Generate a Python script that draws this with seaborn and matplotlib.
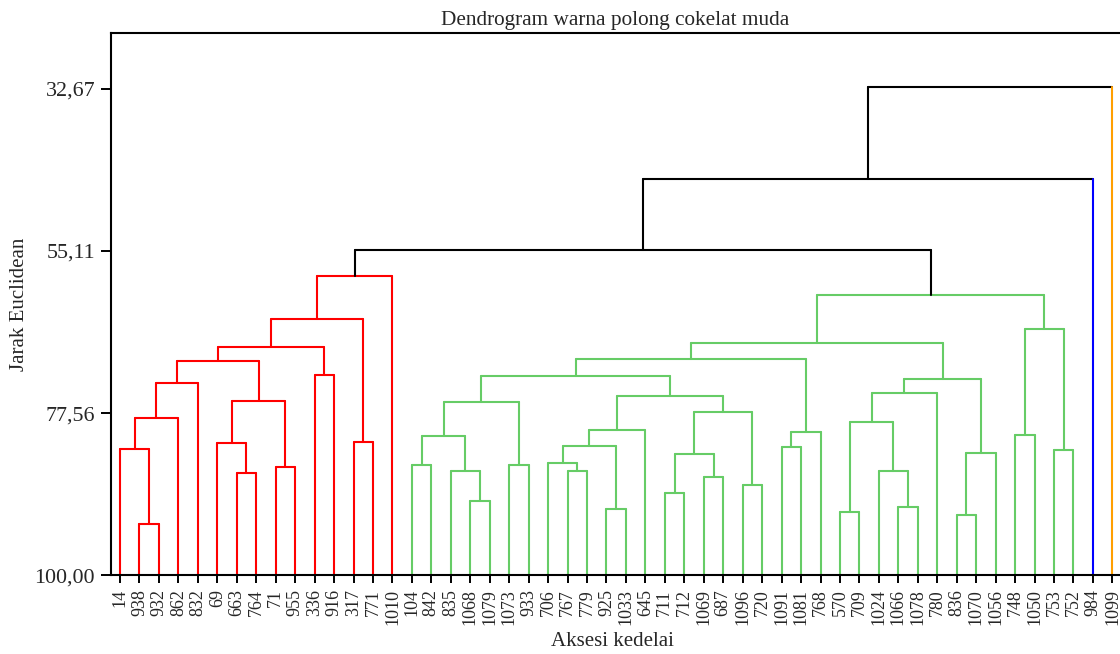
import numpy as np
import pandas as pd
import matplotlib
matplotlib.use("Agg")
import matplotlib.pyplot as plt
import seaborn as sns

# ---------------- data ----------------
leaf_labels = ["14", "938", "932", "862", "832", "69", "663", "764", "71", "955",
               "336", "916", "317", "771", "1010", "104", "842", "835", "1068", "1079",
               "1073", "933", "706", "767", "779", "925", "1033", "645", "711", "712",
               "1069", "687", "1096", "720", "1091", "1081", "768", "570", "709", "1024",
               "1066", "1078", "780", "836", "1070", "1056", "748", "1050", "753", "752",
               "984", "1099"]
# singleton leaves with their own colour
leaf_own_color = {"984": "#0000FF", "1099": "#FF9F00"}

# merges: node index = len(leaves) + k
merge_left = [1, 0, 53, 54, 6, 5, 8, 57, 55, 10, 60, 12, 62, 64,
              15, 18, 17, 66, 20, 69, 23, 22, 25, 73, 75, 28, 30, 77, 32, 79, 76, 71,
              34, 84, 83, 37, 40, 39, 87, 90, 43, 92, 91, 86, 46, 48, 96, 95,
              65, 100, 101]
merge_right = [2, 52, 3, 4, 7, 56, 9, 58, 59, 11, 61, 13, 63, 14,
               16, 19, 67, 68, 21, 70, 24, 72, 26, 74, 27, 29, 31, 78, 33, 80, 81, 82,
               35, 36, 85, 38, 41, 88, 89, 42, 44, 45, 93, 94, 47, 49, 97, 98,
               99, 50, 51]
merge_height = [92.90, 82.57, 78.23, 73.35, 85.80, 81.74, 85.06, 75.84, 70.31, 72.28,
                68.45, 81.51, 64.58, 58.54,
                84.74, 89.68, 85.57, 80.68, 84.74, 75.98, 85.57, 84.50, 90.78, 82.07,
                79.85, 88.61, 86.36, 83.17, 87.51, 77.36, 75.19, 72.46, 82.29, 80.13,
                70.03, 91.28, 90.51, 85.57, 78.79, 74.73, 91.61, 83.12, 72.80, 67.82,
                80.63, 82.62, 65.96, 61.26,
                54.95, 45.21, 32.43]
merge_color = ["#FF0000"] * 14 + ["#66CC66"] * 34 + ["#000000"] * 3

y_ticks = [32.67, 55.11, 77.56, 100.00]
y_tick_labels = ["32,67", "55,11", "77,56", "100,00"]
base_value = 100.0

# ---------------- build link segments ----------------
n = len(leaf_labels)
node_x = list(range(n))
node_h = [base_value] * n
for l, r, h in zip(merge_left, merge_right, merge_height):
    node_x.append((node_x[l] + node_x[r]) / 2.0)
    node_h.append(h)

rows = []
seg = 0
for k, (l, r, h, c) in enumerate(zip(merge_left, merge_right, merge_height, merge_color)):
    for child in (l, r):
        col = c
        if child < n and leaf_labels[child] in leaf_own_color:
            col = leaf_own_color[leaf_labels[child]]
        rows.append(dict(seg=seg, x=node_x[child], y=node_h[child], color=col, order=0))
        rows.append(dict(seg=seg, x=node_x[child], y=h, color=col, order=1))
        seg += 1
    rows.append(dict(seg=seg, x=node_x[l], y=h, color=c, order=0))
    rows.append(dict(seg=seg, x=node_x[r], y=h, color=c, order=1))
    seg += 1
df = pd.DataFrame(rows)

# ---------------- figure ----------------
sns.set_style("ticks")
plt.rcParams["font.family"] = ["Liberation Serif", "DejaVu Serif"]

fig = plt.figure(figsize=(11.2, 6.54), dpi=100)
W, H = 1120.0, 654.0
ax = fig.add_axes([111 / W, (H - 575.3) / H, (W - 111) / W, (575.3 - 33.3) / H])

palette = {c: c for c in df["color"].unique()}
sns.lineplot(data=df, x="x", y="y", units="seg", hue="color", palette=palette,
             estimator=None, sort=False, legend=False, linewidth=1.5, ax=ax)

ax.set_xlim(-0.4625, 51.39)
ax.set_ylim(100, 25)

ax.set_xticks(range(n))
ax.set_xticklabels(leaf_labels, rotation=90, fontsize=13)
ax.set_yticks(y_ticks)
ax.set_yticklabels(y_tick_labels, fontsize=15.8)
ax.tick_params(axis="x", length=6, width=1.4, pad=4, color="black")
ax.tick_params(axis="y", length=7.5, width=1.4, pad=4, color="black")

for side in ("left", "top", "bottom"):
    ax.spines[side].set_visible(True)
    ax.spines[side].set_linewidth(1.5)
    ax.spines[side].set_color("black")
ax.spines["right"].set_visible(False)

ax.set_title("Dendrogram warna polong cokelat muda", fontsize=15.3, pad=6)
ax.set_xlabel("Aksesi kedelai", fontsize=15)
ax.set_ylabel("Jarak Euclidean", fontsize=15)
ax.xaxis.set_label_coords(0.4965, -0.1046)
ax.yaxis.set_label_coords(-0.0808, 0.50)

fig.savefig("out.png", dpi=100)
